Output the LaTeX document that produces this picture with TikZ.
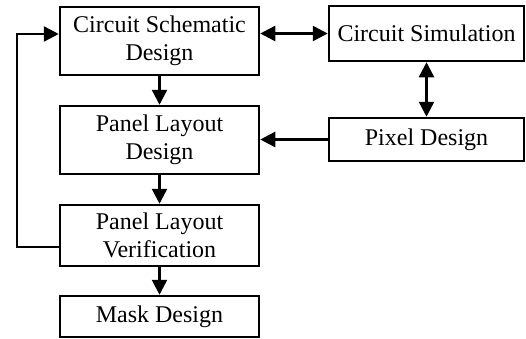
\documentclass[tikz,border=0pt]{standalone}
\usepackage{fontspec}
\setmainfont{Liberation Serif}
\usetikzlibrary{arrows.meta}
\begin{document}
\begin{tikzpicture}[x=1pt,y=-1pt,
  box/.style={draw=black,line width=2.5pt,align=center,inner sep=0pt,
    font=\fontsize{24}{28}\selectfont},
  conn/.style={line width=2.5pt,-{Triangle[length=15pt,width=15pt]}},
  dconn/.style={line width=2.5pt,{Triangle[length=15pt,width=15pt]}-{Triangle[length=15pt,width=15pt]}}]
\useasboundingbox (0,0) rectangle (526,338);
\node[box,minimum width=199pt,minimum height=68pt] (csd) at (159.5,41) {Circuit Schematic\\Design};
\node[box,minimum width=199pt,minimum height=68pt] (pld) at (159.5,140) {Panel Layout\\Design};
\node[box,minimum width=199pt,minimum height=61pt] (plv) at (159.5,235.5) {Panel Layout\\Verification};
\node[box,minimum width=199pt,minimum height=41pt] (md) at (159.5,316.5) {Mask Design};
\node[box,minimum width=195pt,minimum height=55pt] (sim) at (426.5,33.5) {Circuit Simulation};
\node[box,minimum width=195pt,minimum height=43pt] (pix) at (426.5,139.5) {Pixel Design};
\draw[conn] (csd) -- (pld);
\draw[conn] (pld) -- (plv);
\draw[conn] (plv) -- (md);
\draw[dconn] (csd.east |- sim.west) -- (sim.west);
\draw[dconn] (sim) -- (pix);
\draw[conn] (pix) -- (pix.west -| pld.east);
\coordinate (lb) at (17,247);
\coordinate (lt) at (17,34);
\draw[conn] (plv.west |- lb) -- (lb) -- (lt) -- (lt -| csd.west);
\end{tikzpicture}
\end{document}
